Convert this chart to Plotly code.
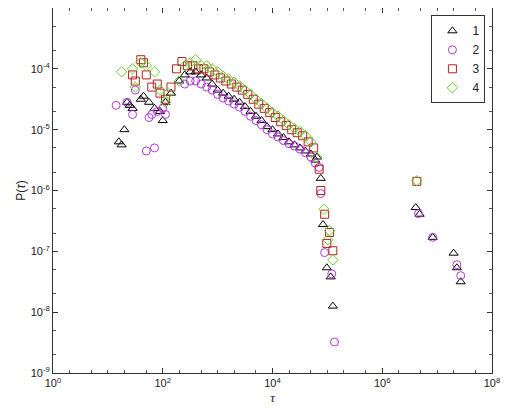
import numpy as np
import plotly.graph_objects as go

# values as log10(tau), log10(P)
s1_lx = [1.2, 1.25, 1.3, 1.35, 1.4, 1.45, 1.6, 1.65, 1.75, 1.85, 1.95, 2.0, 2.05, 2.15, 2.3,
         2.4, 2.5, 2.6, 2.7, 2.8, 2.9, 3.0, 3.1, 3.2, 3.3, 3.4, 3.5, 3.6, 3.7, 3.8, 3.9, 4.0,
         4.1, 4.2, 4.3, 4.4, 4.5, 4.6, 4.7, 4.78,
         4.81, 4.88, 4.92, 4.99, 5.06, 5.10, 6.61, 6.68, 6.92, 7.30, 7.36, 7.43]
s1_ly = [-5.2, -5.25, -5.0, -4.55, -4.6, -4.65, -4.5, -4.45, -4.55, -4.65, -4.7, -4.85, -4.55, -4.4, -4.2,
         -4.1, -4.05, -4.05, -4.1, -4.15, -4.25, -4.35, -4.4, -4.45, -4.5, -4.55, -4.62, -4.7, -4.78, -4.85, -4.95, -5.0,
         -5.07, -5.13, -5.2, -5.25, -5.3, -5.35, -5.4, -5.5,
         -5.45, -5.8, -6.56, -7.27, -7.42, -7.9, -6.28, -6.39, -6.77, -7.03, -7.27, -7.5]

s2_lx = [1.15, 1.35, 1.45, 1.5, 1.7, 1.75, 1.8, 1.85, 1.9, 2.0, 2.05,
         2.4, 2.5, 2.6, 2.7, 2.8, 2.9, 3.0, 3.1, 3.2, 3.3, 3.4, 3.5, 3.6, 3.7, 3.8, 3.9, 4.0,
         4.1, 4.2, 4.3, 4.4, 4.5, 4.6, 4.7, 4.78,
         4.85, 4.88, 4.95, 5.08, 5.13, 6.66, 6.92, 7.36, 7.43]
s2_ly = [-4.6, -4.55, -4.75, -4.35, -5.35, -4.8, -4.75, -5.3, -4.7, -4.65, -4.75,
         -4.25, -4.2, -4.2, -4.25, -4.3, -4.35, -4.42, -4.48, -4.53, -4.58, -4.63, -4.7, -4.78, -4.85, -4.92, -5.0, -5.07,
         -5.12, -5.18, -5.23, -5.27, -5.32, -5.38, -5.45, -5.55,
         -5.62, -6.05, -7.02, -7.37, -8.49, -6.38, -6.77, -7.22, -7.4]

s3_lx = [1.45, 1.5, 1.6, 1.65, 1.7, 1.8, 1.9, 1.95, 2.05, 2.15, 2.25,
         2.35, 2.45, 2.55, 2.65, 2.75, 2.85, 2.95, 3.05, 3.15, 3.25, 3.35, 3.45, 3.55, 3.65, 3.75, 3.85, 3.95,
         4.05, 4.15, 4.25, 4.35, 4.45, 4.55, 4.65, 4.75,
         4.85, 4.88, 4.95, 5.04, 4.99, 5.10, 6.63]
s3_ly = [-4.1, -4.2, -3.85, -3.9, -4.1, -4.3, -4.25, -4.4, -4.5, -4.3, -4.0,
         -3.88, -3.95, -3.95, -4.0, -4.0, -4.05, -4.1, -4.15, -4.2, -4.25, -4.3, -4.35, -4.42, -4.5, -4.58, -4.65, -4.72,
         -4.8, -4.87, -4.93, -5.0, -5.05, -5.1, -5.2, -5.3,
         -5.65, -6.0, -6.39, -6.69, -6.87, -6.99, -5.85]

s4_lx = [1.25, 1.45, 1.5, 1.6, 1.7, 1.85, 1.95, 2.05, 2.1, 2.3,
         2.4, 2.5, 2.6, 2.7, 2.8, 2.9, 3.0, 3.1, 3.2, 3.3, 3.4, 3.5, 3.6, 3.7, 3.8, 3.9, 4.0,
         4.1, 4.2, 4.3, 4.4, 4.5, 4.6, 4.7, 4.8,
         4.94, 5.04, 5.01, 5.10, 6.63]
s4_ly = [-4.05, -4.0, -4.3, -3.9, -3.95, -4.05, -4.35, -4.55, -4.4, -4.2,
         -3.95, -3.9, -3.85, -3.95, -3.95, -4.0, -4.05, -4.12, -4.17, -4.22, -4.28, -4.35, -4.42, -4.5, -4.57, -4.65, -4.72,
         -4.78, -4.85, -4.92, -4.98, -5.03, -5.1, -5.2, -5.45,
         -6.31, -6.66, -6.81, -7.14, -5.84]

names = ["1", "2", "3", "4"]
symbols = ["triangle-up-open", "circle-open", "square-open", "diamond-open"]
colors = ["#000000", "#b237d6", "#b22222", "#6acc2c"]

x_exps = list(range(0, 9, 2))
y_exps = list(range(-9, -2))

fig = go.Figure()
for name, lx, ly, sym, col in zip(names, [s1_lx, s2_lx, s3_lx, s4_lx], [s1_ly, s2_ly, s3_ly, s4_ly], symbols, colors):
    fig.add_trace(go.Scatter(
        x=10 ** np.array(lx), y=10 ** np.array(ly), mode='markers', name=name,
        marker=dict(symbol=sym, size=8, color=col, line=dict(width=1, color=col))))

axis_style = dict(type='log', showgrid=False, zeroline=False, showline=True, mirror='allticks',
                  linecolor='#333', linewidth=1, ticks='inside', ticklen=5, tickcolor='#333',
                  minor=dict(ticks='inside', ticklen=3, tickcolor='#555'),
                  tickfont=dict(family='Liberation Sans', size=11, color='#222'))

fig.update_xaxes(**axis_style, range=[0, 8], tickvals=[10 ** e for e in x_exps],
                 ticktext=[f"10<sup>{e}</sup>" for e in x_exps],
                 title=dict(text="<i>τ</i>", standoff=4, font=dict(family='Liberation Serif', size=13)))
fig.update_yaxes(**axis_style, range=[-9, -3], tickvals=[10 ** e for e in y_exps],
                 ticktext=[f"10<sup>{e}</sup>" for e in y_exps],
                 title=dict(text="P(<i>τ</i>)", standoff=2, font=dict(family='Liberation Sans', size=12)))

fig.update_layout(
    width=520, height=413, template='plotly_white', plot_bgcolor='white',
    margin=dict(l=45, r=36, t=0, b=48),
    font=dict(family='Liberation Sans', color='#222'),
    legend=dict(x=0.985, y=0.98, xanchor='right', yanchor='top', bordercolor='#333', borderwidth=1,
                bgcolor='white', font=dict(size=12), itemwidth=30),
)

fig.write_html("out.html")
